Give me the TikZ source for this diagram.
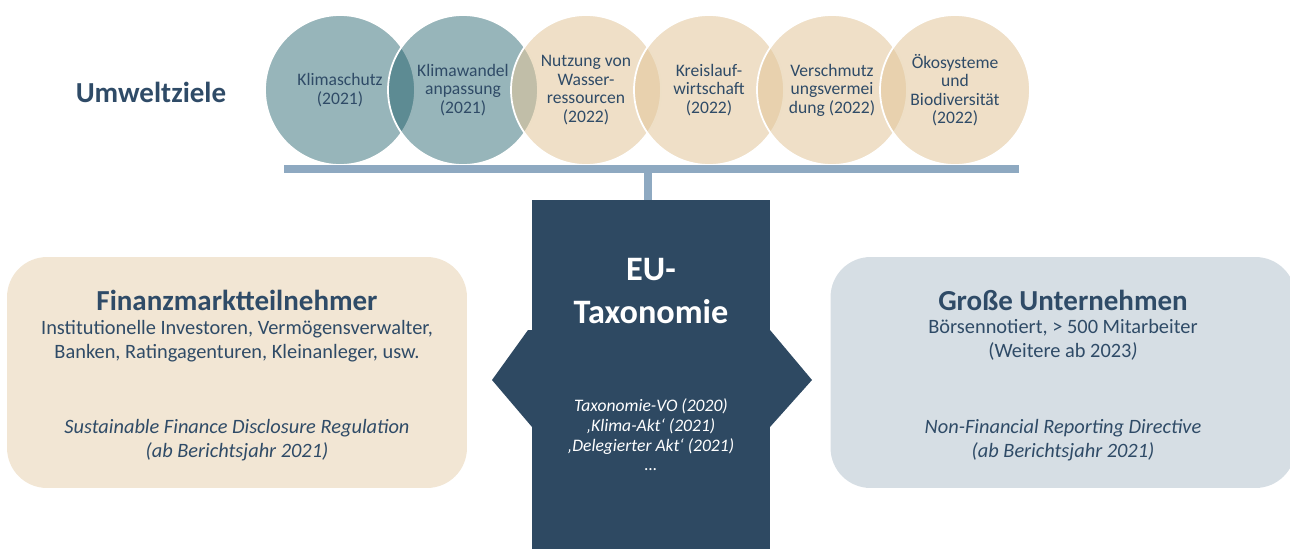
\documentclass[tikz,border=0pt]{standalone}
\usepackage{fontspec}
\setmainfont{Carlito}
\usepackage{tikz}
\usetikzlibrary{positioning}
\usepackage{xcolor}
\definecolor{tinte}{HTML}{2F4B67}
\definecolor{eublau}{HTML}{2E4962}
\definecolor{leiste}{HTML}{8EA9C1}
\definecolor{petrol}{HTML}{135661}
\definecolor{sand}{HTML}{E2C69B}
\definecolor{sandhell}{HTML}{F2E6D4}
\definecolor{grauhell}{HTML}{D6DEE4}

\begin{document}
\begin{tikzpicture}[x=0.02cm,y=-0.02cm,
    ziel/.style={circle,minimum size=3cm,inner sep=0pt,align=center,draw=white,line width=1pt,
      text=tinte,font=\fontsize{10}{10.5}\selectfont},
    petrolkreis/.style={ziel,fill=petrol,fill opacity=0.44,text opacity=1},
    sandkreis/.style={ziel,fill=sand,fill opacity=0.56,text opacity=1},
    feld/.style={rounded corners=0.8cm,minimum width=9.2cm,minimum height=4.62cm,inner sep=0pt},
    titel/.style={text=tinte,font=\fontsize{16.5}{19}\bfseries\selectfont,align=center},
    zeilen/.style={text=tinte,font=\fontsize{11.6}{13.6}\selectfont,align=center},
    quelle/.style={text=tinte,font=\fontsize{11.6}{13.6}\itshape\selectfont,align=center}]
\useasboundingbox (0,0) rectangle (1290,549);
% Umweltziele
\node[titel] (umwelt) at (151,92) {Umweltziele};
\foreach \i/\s/\t in {1/petrolkreis/{Klimaschutz\\(2021)},
                      2/petrolkreis/{Klimawandel\\anpassung\\(2021)},
                      3/sandkreis/{Nutzung von\\Wasser-\\ressourcen\\(2022)},
                      4/sandkreis/{Kreislauf-\\wirtschaft\\(2022)},
                      5/sandkreis/{Verschmutz\\ungsvermei\\dung (2022)},
                      6/sandkreis/{Ökosysteme\\und\\Biodiversität\\(2022)}}
  \node[\s] (z\i) at ({217+123*\i},90) {\t};
% Leiste
\coordinate (la) at (284,169);
\coordinate (lb) at (1019,169);
\coordinate (lm) at (648,169);
\draw[leiste,line width=4pt] (la) -- (lb);
% EU-Taxonomie
\fill[eublau] (528,330) -- (492,380) -- (532,427) -- (770,427) -- (812,380) -- (770,330) -- cycle;
\node[fill=eublau,minimum width=4.76cm,minimum height=6.98cm,inner sep=0pt] (eu) at (651,374.5) {};
\draw[leiste,line width=4pt] (lm) -- (lm |- eu.north);
\node[text=white,font=\fontsize{19.5}{24}\bfseries\selectfont,align=center] (eutitel) at (651,291) {EU-\\Taxonomie};
\node[text=white,font=\fontsize{10}{11.2}\itshape\selectfont,align=center] (euakte) at (651,435)
  {Taxonomie-VO (2020)\\‚Klima-Akt‘ (2021)\\‚Delegierter Akt‘ (2021)\\…};
% Finanzmarktteilnehmer
\node[feld,fill=sandhell] (fin) at (237,372.5) {};
\node[titel] (fintitel) at (237,300) {Finanzmarktteilnehmer};
\node[zeilen] (finwer) at (237,341) {Institutionelle Investoren, Vermögensverwalter,\\Banken, Ratingagenturen, Kleinanleger, usw.};
\node[quelle] (finreg) at (237,440) {Sustainable Finance Disclosure Regulation\\(ab Berichtsjahr 2021)};
% Grosse Unternehmen
\node[feld,fill=grauhell,minimum width=9.3cm] (gu) at (1063,372.5) {};
\node[titel] (gutitel) at (1063,300) {Große Unternehmen};
\node[zeilen] (guwer) at (1063,340) {Börsennotiert, > 500 Mitarbeiter\\(Weitere ab 2023\textit{)}};
\node[quelle] (gureg) at (1063,440) {Non-Financial Reporting Directive\\(ab Berichtsjahr 2021)};
\end{tikzpicture}
\end{document}
